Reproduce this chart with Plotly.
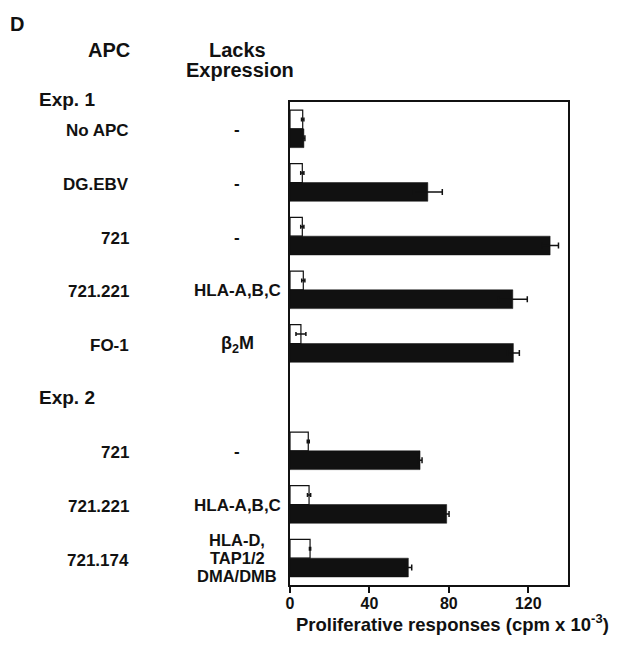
import plotly.graph_objects as go

# ---------------- data ----------------
exp1_apc = ["No APC", "DG.EBV", "721", "721.221", "FO-1"]
exp1_lacks = ["-", "-", "-", "HLA-A,B,C", "β<sub>2</sub>M"]
exp2_apc = ["721", "721.221", "721.174"]
exp2_lacks = ["-", "HLA-A,B,C", ["HLA-D,", "TAP1/2", "DMA/DMB"]]
experiments = ["Exp. 1", "Exp. 2"]

control = [6.4, 6.2, 6.2, 6.7, 5.5, 9.2, 9.6, 10.1]          # open bars
control_err = [0.6, 0.8, 0.8, 0.8, 2.5, 0.5, 0.8, 0.3]
response = [7.0, 69.4, 131.0, 112.2, 112.5, 65.5, 78.9, 59.6]  # filled bars
response_err = [0.5, 7.3, 4.2, 7.3, 3.0, 1.0, 1.2, 1.7]
xticks = [0, 40, 80, 120]

# ---------------- layout helpers ----------------
OFF = 8                      # default page body margin
W, H = 618 - OFF, 646 - OFF
PL, PT = 290, 102            # plot frame left/top in window pixels
PW, PH = 278, 483
L, T = PL - OFF, PT - OFF
R, B = W - L - PW, H - T - PH


def px_x(px):
    return (px - PL) / PW


def px_y(py):
    return 1 - (py - PT) / PH


# row positions: exp 1 rows, then a spacer row for the "Exp. 2" header, then exp 2 rows
pos1 = list(range(len(exp1_apc)))
exp2_header = len(exp1_apc)
pos2 = [exp2_header + 1 + i for i in range(len(exp2_apc))]
ypos = pos1 + pos2

FONT = "Liberation Sans, Arial, Helvetica, sans-serif"
INK = "#111111"
BW = 0.35

fig = go.Figure()
fig.add_trace(go.Bar(
    x=control, y=ypos, orientation="h", width=BW, offset=-BW,
    marker=dict(color="white", line=dict(color=INK, width=1.2)),
    error_x=dict(type="data", array=control_err, color=INK, thickness=1.5, width=2),
    showlegend=False,
))
fig.add_trace(go.Bar(
    x=response, y=ypos, orientation="h", width=BW, offset=0,
    marker=dict(color=INK, line=dict(color=INK, width=0.5)),
    error_x=dict(type="data", array=response_err, color=INK, thickness=1.5, width=3),
    showlegend=False,
))

ann = []


def txt(text, x, y, size, xanchor="center", yref="y", xref="paper"):
    ann.append(dict(text=text, x=x, y=y, xref=xref, yref=yref, showarrow=False,
                    xanchor=xanchor, yanchor="middle",
                    font=dict(family=FONT, size=size, color=INK, weight="bold")))


# panel letter and headers
txt("D", px_x(8), px_y(24), 20, xanchor="left", yref="paper")
txt("APC", px_x(132), px_y(50), 20, xanchor="right", yref="paper")
txt("Lacks", px_x(237), px_y(50), 20, yref="paper")
txt("Expression", px_x(240), px_y(70), 20, yref="paper")
txt(experiments[0], px_x(37), px_y(100), 19, xanchor="left", yref="paper")
txt(experiments[1], px_x(37), exp2_header, 19, xanchor="left")

APC_X = px_x(131)
LACK_X = px_x(237)
for name, lk, p in zip(exp1_apc + exp2_apc, exp1_lacks + exp2_lacks, ypos):
    txt(name, APC_X, p + 0.04, 17, xanchor="right")
    if isinstance(lk, list):
        n = len(lk)
        for j, line in enumerate(lk):
            txt(line, LACK_X, p + (j - (n - 1) / 2) * 0.33, 16.5)
    else:
        txt(lk, LACK_X, p + 0.02, 18 if "β" in lk else 17)

# x-axis title as annotation (extends beyond the plot on the right)
txt("Proliferative responses (cpm x 10<sup>-3</sup>)", px_x(294), px_y(623), 18.5,
    xanchor="left", yref="paper")

fig.update_layout(
    width=W, height=H,
    margin=dict(l=L, r=R, t=T, b=B, pad=0),
    paper_bgcolor="white", plot_bgcolor="white",
    annotations=ann,
    barmode="overlay",
    xaxis=dict(range=[0, 140], tickvals=xticks, ticks="outside", ticklen=6,
               tickwidth=1.5, tickcolor=INK, showgrid=False, zeroline=False,
               showline=True, linecolor=INK, linewidth=1.5, mirror=True,
               ticklabelstandoff=-3,
               tickfont=dict(family=FONT, size=16, color=INK, weight="bold")),
    yaxis=dict(range=[len(ypos) + 0.5, -0.5], showticklabels=False, ticks="",
               showgrid=False, zeroline=False, showline=True, linecolor=INK,
               linewidth=1.5, mirror=True),
)

fig.write_html("out.html")
